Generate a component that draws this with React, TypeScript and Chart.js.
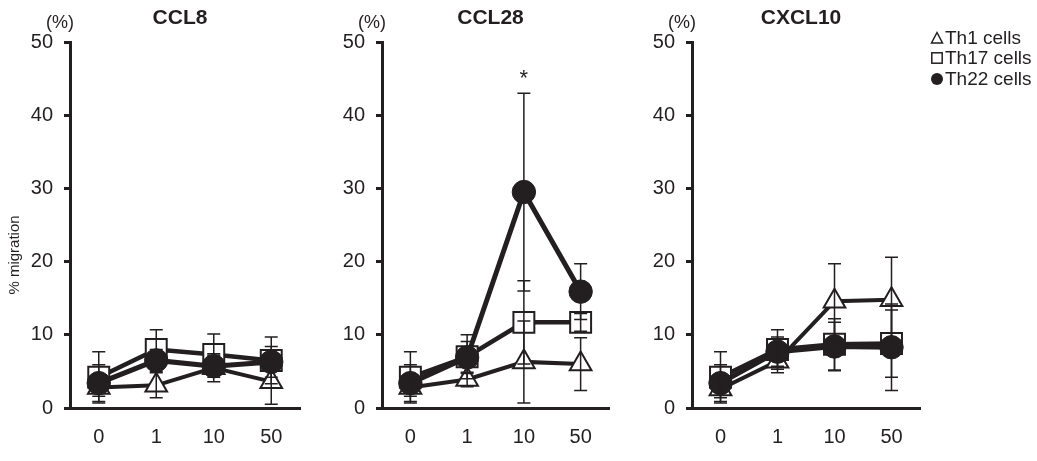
import { useEffect, useRef } from 'react';
import { Chart, registerables } from 'chart.js';

Chart.register(...registerables);

const INK = '#231f20';
const FONT = '"Liberation Sans", Arial, sans-serif';

const doses = ['0', '1', '10', '50'];
const yTicks = [0, 10, 20, 30, 40, 50];
const groups = ['Th1 cells', 'Th17 cells', 'Th22 cells'];

// CCL8
const ccl8Th1 = [2.8, 3.1, 5.5, 3.6];
const ccl8Th1Err = [1.2, 1.7, 1.9, 3.1];
const ccl8Th17 = [4.2, 8.0, 7.3, 6.5];
const ccl8Th17Err = [3.5, 2.7, 2.8, 3.2];
const ccl8Th22 = [3.4, 6.5, 5.7, 6.3];
const ccl8Th22Err = [2.5, 1.5, 1.5, 2.1];

// CCL28
const ccl28Th1 = [2.8, 3.9, 6.3, 6.0];
const ccl28Th1Err = [1.2, 1.0, 5.6, 3.6];
const ccl28Th17 = [4.2, 7.0, 11.7, 11.7];
const ccl28Th17Err = [3.5, 3.0, 5.7, 1.2];
const ccl28Th22 = [3.4, 6.9, 29.5, 15.9];
const ccl28Th22Err = [2.5, 2.2, 13.5, 3.8];

// CXCL10
const cxcl10Th1 = [2.6, 6.4, 14.6, 14.8];
const cxcl10Th1Err = [1.2, 1.6, 5.1, 5.8];
const cxcl10Th17 = [4.2, 8.0, 8.7, 8.8];
const cxcl10Th17Err = [3.5, 2.7, 3.5, 4.6];
const cxcl10Th22 = [3.4, 7.7, 8.4, 8.3];
const cxcl10Th22Err = [2.5, 2.0, 3.3, 5.9];

const makeDatasets = (th1, th1Err, th17, th17Err, th22, th22Err) => [
    {
        label: groups[0],
        data: th1,
        errors: th1Err,
        order: 2,
        borderColor: INK,
        borderWidth: 4,
        pointStyle: 'triangle',
        pointRadius: 12.5,
        pointBackgroundColor: '#fff',
        pointBorderColor: INK,
        pointBorderWidth: 2,
        clip: false
    },
    {
        label: groups[1],
        data: th17,
        errors: th17Err,
        order: 1,
        borderColor: INK,
        borderWidth: 4.5,
        pointStyle: 'rect',
        pointRadius: 14.8,
        pointBackgroundColor: '#fff',
        pointBorderColor: INK,
        pointBorderWidth: 2,
        clip: false
    },
    {
        label: groups[2],
        data: th22,
        errors: th22Err,
        order: 0,
        borderColor: INK,
        borderWidth: 5,
        pointStyle: 'circle',
        pointRadius: 11.7,
        pointBackgroundColor: INK,
        pointBorderColor: INK,
        pointBorderWidth: 1,
        clip: false
    }
];

// error bars drawn over the lines
const errorBars = {
    id: 'errorBars',
    afterDatasetsDraw(chart) {
        const { ctx } = chart;
        const y = chart.scales.y;
        ctx.save();
        ctx.strokeStyle = INK;
        ctx.lineWidth = 1.5;
        chart.data.datasets.forEach((ds, i) => {
            const meta = chart.getDatasetMeta(i);
            meta.data.forEach((pt, j) => {
                const v = ds.data[j];
                const e = ds.errors[j];
                const top = y.getPixelForValue(v + e);
                const bot = y.getPixelForValue(Math.max(0, v - e));
                ctx.beginPath();
                ctx.moveTo(pt.x, top);
                ctx.lineTo(pt.x, bot);
                ctx.moveTo(pt.x - 6.5, top);
                ctx.lineTo(pt.x + 6.5, top);
                ctx.moveTo(pt.x - 6.5, bot);
                ctx.lineTo(pt.x + 6.5, bot);
                ctx.stroke();
            });
        });
        ctx.restore();
    }
};

const Panel = ({ left, axisX, areaW, padRight = 25, title, datasets, yLabel = false, star = null, legend = false }) => {
    const chartRef = useRef(null);
    const width = axisX - left + areaW + padRight;

    useEffect(() => {
        const ctx = chartRef.current.getContext('2d');

        const decor = {
            id: 'decor',
            afterDraw(chart) {
                const c = chart.ctx;
                const area = chart.chartArea;
                c.save();
                c.fillStyle = INK;
                c.textAlign = 'center';
                c.textBaseline = 'middle';
                c.font = `bold 21px ${FONT}`;
                c.fillText(title, (area.left + area.right) / 2 - 5, 18);
                c.font = `18px ${FONT}`;
                c.fillText('(%)', area.left - 10, 23);
                if (star) {
                    const sx = chart.scales.x.getPixelForValue(doses.indexOf(star.dose));
                    const sy = chart.scales.y.getPixelForValue(star.value);
                    c.font = `22px ${FONT}`;
                    c.fillText('*', sx, sy);
                }
                if (yLabel) {
                    c.save();
                    c.translate(15, 255);
                    c.rotate(-Math.PI / 2);
                    c.font = `15px ${FONT}`;
                    c.fillText('% migration', 0, 0);
                    c.restore();
                }
                if (legend) {
                    const lx = 937 - left;
                    const rows = [38, 58, 79];
                    c.strokeStyle = INK;
                    c.lineWidth = 1.5;
                    // triangle
                    c.beginPath();
                    c.moveTo(lx, rows[0] - 5.5);
                    c.lineTo(lx - 5.5, rows[0] + 5);
                    c.lineTo(lx + 5.5, rows[0] + 5);
                    c.closePath();
                    c.stroke();
                    // square
                    c.strokeRect(lx - 5.2, rows[1] - 5.2, 10.4, 10.4);
                    // circle
                    c.beginPath();
                    c.arc(lx, rows[2], 6, 0, Math.PI * 2);
                    c.fill();
                    c.font = `19px ${FONT}`;
                    c.textAlign = 'left';
                    groups.forEach((g, i) => c.fillText(g, lx + 8, rows[i] + 1));
                }
                c.restore();
            }
        };

        const config = {
            type: 'line',
            data: { labels: doses, datasets },
            options: {
                responsive: false,
                animation: false,
                layout: { padding: { top: 42, right: padRight, bottom: 0, left: 0 } },
                plugins: { legend: { display: false }, tooltip: { enabled: false } },
                elements: { line: { tension: 0 } },
                scales: {
                    x: {
                        offset: true,
                        afterFit: (s) => {
                            s.height = 53;
                            s.paddingLeft = 0;
                            s.paddingRight = 0;
                        },
                        grid: { display: true, drawOnChartArea: false, drawTicks: false },
                        border: { display: true, color: INK, width: 3 },
                        ticks: { color: INK, padding: 17, font: { size: 20, family: FONT } }
                    },
                    y: {
                        min: 0,
                        max: 50,
                        afterFit: (s) => { s.width = axisX - left; },
                        afterBuildTicks: (s) => { s.ticks = yTicks.map((v) => ({ value: v })); },
                        grid: { drawOnChartArea: false, tickLength: 6, tickWidth: 3, tickColor: INK },
                        border: { display: true, color: INK, width: 3 },
                        ticks: { color: INK, padding: 11, font: { size: 20, family: FONT } }
                    }
                }
            },
            plugins: [errorBars, decor]
        };

        const myChart = new Chart(ctx, config);

        return () => {
            myChart.destroy();
        };
    }, []);

    return (
        <canvas
            ref={chartRef}
            width={width}
            height={461}
            style={{ position: 'absolute', left, top: 0, width, height: 461 }}
        />
    );
};

const App = () => (
    <div style={{ position: 'absolute', left: 0, top: 0, width: 1037, height: 461, background: '#fff' }}>
        <Panel
            left={0}
            axisX={70}
            areaW={230}
            title="CCL8"
            yLabel
            datasets={makeDatasets(ccl8Th1, ccl8Th1Err, ccl8Th17, ccl8Th17Err, ccl8Th22, ccl8Th22Err)}
        />
        <Panel
            left={312}
            axisX={382}
            areaW={227}
            title="CCL28"
            star={{ dose: '10', value: 44.9 }}
            datasets={makeDatasets(ccl28Th1, ccl28Th1Err, ccl28Th17, ccl28Th17Err, ccl28Th22, ccl28Th22Err)}
        />
        <Panel
            left={622}
            axisX={692}
            areaW={228}
            padRight={117}
            title="CXCL10"
            legend
            datasets={makeDatasets(cxcl10Th1, cxcl10Th1Err, cxcl10Th17, cxcl10Th17Err, cxcl10Th22, cxcl10Th22Err)}
        />
    </div>
);

export default App;
